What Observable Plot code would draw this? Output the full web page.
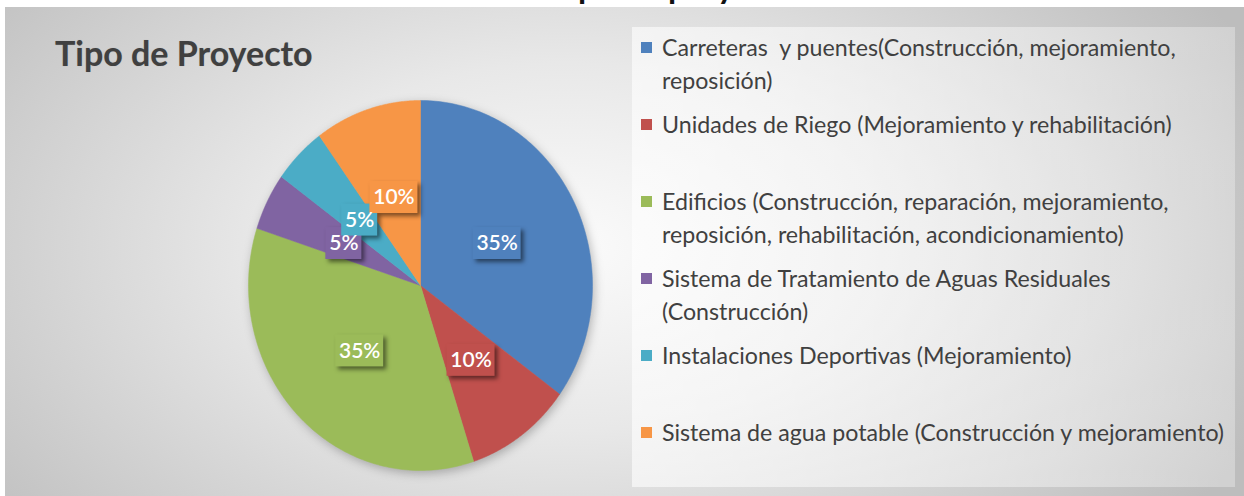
<!DOCTYPE html>
<html><head><meta charset="utf-8">
<script src="https://cdn.jsdelivr.net/npm/d3@7"></script>
<script src="https://cdn.jsdelivr.net/npm/@observablehq/plot@0.6"></script>
<style>
html,body{margin:0;padding:0;background:#fff;width:1244px;height:496px;overflow:hidden;font-family:Lato,"Open Sans",sans-serif;}
#top{position:absolute;left:0;top:0;width:1244px;height:7px;overflow:hidden;}
#top span{position:absolute;left:550px;top:-34px;font-weight:bold;font-size:33px;color:#111;white-space:nowrap;}
#panel{position:absolute;left:5px;top:7px;width:1239px;height:489px;
  background:radial-gradient(ellipse 760px 460px at 560px 240px,#fbfbfb 0%,#e8e8e8 40%,#cfcfcf 75%,#bdbdbd 100%);}
#title{position:absolute;left:55px;top:32px;font-weight:bold;font-size:34px;color:#404040;white-space:nowrap;text-shadow:0 0 1px rgba(0,0,0,0.2);}
#legendbox{position:absolute;left:632px;top:27px;width:603px;height:460px;
  background:linear-gradient(90deg,rgba(255,255,255,0.6),rgba(255,255,255,0.3));}
.item{position:absolute;left:641px;width:595px;}
.sw{position:absolute;left:0;top:11px;width:11px;height:11px;}
.lt{position:absolute;left:21px;top:0;width:572px;font-size:23.2px;line-height:33px;color:#404040;white-space:pre-wrap;}
#chart{position:absolute;left:0;top:0;}
#chart g[aria-label="line"]{filter:drop-shadow(2px 3px 5px rgba(0,0,0,0.25));}
#chart g[aria-label="rect"]{filter:drop-shadow(3px 3px 2px rgba(0,0,0,0.5));}
</style></head>
<body>
<div id="top"><span>Tipo de proyecto</span></div>
<div id="panel"></div>
<div id="title">Tipo de Proyecto</div>
<div id="legendbox"></div>
<div id="legend"></div>
<div id="chart"></div>
<script>
const categories = [
  "Carreteras  y puentes(Construcción, mejoramiento, reposición)",
  "Unidades de Riego (Mejoramiento y rehabilitación)",
  "Edificios (Construcción, reparación, mejoramiento, reposición, rehabilitación, acondicionamiento)",
  "Sistema de Tratamiento de Aguas Residuales (Construcción)",
  "Instalaciones Deportivas (Mejoramiento)",
  "Sistema de agua potable (Construcción y mejoramiento)"
];
const values = [35, 10, 35, 5, 5, 10];
const colors = ["#4F81BD", "#C0504D", "#9BBB59", "#8064A2", "#4BACC6", "#F79646"];

const total = d3.sum(values);
const slices = [];
const labels = [];
let cum = 0;
categories.forEach((c, i) => {
  const a0 = cum / total * 2 * Math.PI;
  cum += values[i];
  const a1 = cum / total * 2 * Math.PI;
  const n = 120;
  slices.push({cat: c, x: 0, y: 0});
  for (let k = 0; k <= n; k++) {
    const a = a0 + (a1 - a0) * k / n;
    slices.push({cat: c, x: Math.sin(a), y: Math.cos(a)});
  }
  slices.push({cat: c, x: 0, y: 0});
  const m = (a0 + a1) / 2;
  const txt = Math.round(values[i] / total * 100) + "%";
  labels.push({cat: c, x: 0.5 * Math.sin(m), y: 0.5 * Math.cos(m), text: txt});
});

// pixel geometry of the pie
const x0 = 248, x1 = 592, yTop = 100, yBot = 470;
const sx = (x1 - x0) / 2, sy = (yBot - yTop) / 2;
labels.forEach(d => {
  const hw = (d.text.length * 12 + 12) / 2, hh = 16;
  d.bx1 = d.x - hw / sx; d.bx2 = d.x + hw / sx;
  d.by1 = d.y - hh / sy; d.by2 = d.y + hh / sy;
});

const chart = Plot.plot({
  width: 1244, height: 496,
  margin: 0,
  style: {background: "transparent", overflow: "visible"},
  x: {domain: [-1, 1], range: [x0, x1], axis: null},
  y: {domain: [-1, 1], range: [yBot, yTop], axis: null},
  color: {domain: categories, range: colors},
  marks: [
    Plot.line(slices, {x: "x", y: "y", z: "cat", fill: "cat", stroke: "cat", strokeWidth: 0.5, curve: "linear"}),
    Plot.rect(labels, {x1: "bx1", x2: "bx2", y1: "by1", y2: "by2", fill: "cat"}),
    Plot.text(labels, {x: "x", y: "y", text: "text", fill: "white", fontSize: 21, fontFamily: "Lato", fontWeight: 600})
  ]
});
document.getElementById("chart").appendChild(chart);

const leg = d3.select("#legend");
categories.forEach((c, i) => {
  const it = leg.append("div").attr("class", "item").style("top", (31 + i * 77) + "px");
  it.append("div").attr("class", "sw").style("background", colors[i]);
  it.append("div").attr("class", "lt").text(c);
});
</script>
</body></html>
